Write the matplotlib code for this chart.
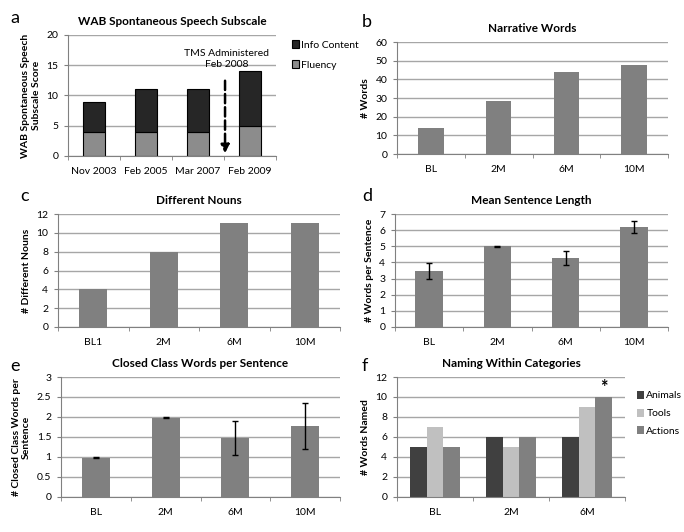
import matplotlib
matplotlib.use("Agg")
import matplotlib.pyplot as plt
import numpy as np

plt.rcParams['font.family'] = ['Lato', 'DejaVu Sans']

# -----------------------
# data
# -----------------------
wab_dates = ['Nov 2003', 'Feb 2005', 'Mar 2007', 'Feb 2009']
wab_fluency = [4, 4, 4, 5]
wab_info = [5, 7, 7, 9]

visits = ['BL', '2M', '6M', '10M']
visits_c = ['BL1', '2M', '6M', '10M']
narrative_words = [14, 28.5, 44, 47.5]
diff_nouns = [4, 8, 11, 11]
mean_len = [3.45, 5.0, 4.3, 6.2]
mean_len_err = [0.5, 0.02, 0.43, 0.38]
closed_class = [0.98, 1.98, 1.48, 1.78]
closed_class_err = [0.01, 0.01, 0.43, 0.58]

naming_visits = ['BL', '2M', '6M']
naming_animals = [5, 6, 6]
naming_tools = [7, 5, 9]
naming_actions = [5, 6, 10]

W, H = 684, 532
BAR = '#808080'
GRID = '#a6a6a6'


def add_panel(fig, x0, y0, x1, y1):
    # pixel box -> figure fraction
    return fig.add_axes([x0 / W, 1 - y1 / H, (x1 - x0) / W, (y1 - y0) / H])


def style(ax, labels, ymax, ystep, ylabel, title, fmt=None):
    n = len(labels)
    ax.set_xlim(-0.5, n - 0.5)
    ax.set_ylim(0, ymax)
    ticks = np.arange(0, ymax + ystep / 2, ystep)
    ax.set_yticks(ticks)
    if fmt:
        ax.set_yticklabels([fmt(t) for t in ticks])
    ax.set_xticks(range(n))
    ax.set_xticklabels(labels)
    ax.set_xticks(np.arange(-0.5, n, 1), minor=True)
    ax.tick_params(axis='x', which='major', length=0, pad=8, labelsize=7.5)
    ax.tick_params(axis='x', which='minor', length=3, color='#808080')
    ax.tick_params(axis='y', length=3, color='#808080', labelsize=7.5, pad=4)
    ax.yaxis.grid(True, color=GRID, lw=1)
    ax.set_axisbelow(True)
    for s in ['top', 'right']:
        ax.spines[s].set_visible(False)
    for s in ['left', 'bottom']:
        ax.spines[s].set_color('#808080')
    ax.set_ylabel(ylabel, fontsize=7.5, fontweight='bold')
    ax.set_title(title, fontsize=8.5, fontweight='bold', pad=7)


fig = plt.figure(figsize=(W / 100, H / 100), dpi=100)

# a
ax = add_panel(fig, 68, 35, 276, 156)
x = np.arange(len(wab_dates))
ax.bar(x, wab_fluency, 0.42, color='#8c8c8c', edgecolor='black', lw=0.8, label='Fluency', zorder=2)
ax.bar(x, wab_info, 0.42, bottom=wab_fluency, color='#262626', edgecolor='black', lw=0.8,
       label='Info Content', zorder=2)
style(ax, wab_dates, 20, 5, 'WAB Spontaneous Speech\nSubscale Score', 'WAB Spontaneous Speech Subscale')
ax.annotate('', xy=(2.52, 0), xytext=(2.52, 12.9),
            arrowprops=dict(arrowstyle='-|>', ls='--', lw=1.8, color='black', mutation_scale=12))
ax.text(2.55, 16, 'TMS Administered\nFeb 2008', ha='center', va='center', fontsize=7.5, linespacing=1.3)
h, l = ax.get_legend_handles_labels()
ax.legend(h[::-1], l[::-1], loc='upper left', bbox_to_anchor=(1.05, 1.0), frameon=False, fontsize=7.5,
          handlelength=0.7, handleheight=0.8, handletextpad=0.2, labelspacing=1.0, borderpad=0)
fig.text(10 / W, 1 - 18 / H, 'a', fontsize=13, va='center')

# b
ax = add_panel(fig, 397, 42, 668, 154)
ax.bar(range(4), narrative_words, 0.38, color=BAR, zorder=2)
style(ax, visits, 60, 10, '# Words', 'Narrative Words')
fig.text(362 / W, 1 - 22 / H, 'b', fontsize=13, va='center')

# c
ax = add_panel(fig, 58, 214, 340, 327)
ax.bar(range(4), diff_nouns, 0.4, color=BAR, zorder=2)
style(ax, visits_c, 12, 2, '# Different Nouns', 'Different Nouns')
fig.text(20 / W, 1 - 196 / H, 'c', fontsize=13, va='center')

# d
ax = add_panel(fig, 395, 214, 668, 327)
ax.bar(range(4), mean_len, 0.4, color=BAR, zorder=2,
       yerr=mean_len_err, error_kw=dict(ecolor='black', elinewidth=1, capsize=2.5, capthick=1))
style(ax, visits, 7, 1, '# Words per Sentence', 'Mean Sentence Length')
fig.text(362 / W, 1 - 196 / H, 'd', fontsize=13, va='center')

# e
ax = add_panel(fig, 61, 377, 340, 497)
ax.bar(range(4), closed_class, 0.4, color=BAR, zorder=2,
       yerr=closed_class_err, error_kw=dict(ecolor='black', elinewidth=1, capsize=2.5, capthick=1))
style(ax, visits, 3, 0.5, '# Closed Class Words per\nSentence', 'Closed Class Words per Sentence',
      fmt=lambda t: ('%g' % t))
fig.text(10 / W, 1 - 366 / H, 'e', fontsize=13, va='center')

# f
ax = add_panel(fig, 397, 377, 625, 497)
xg = np.arange(len(naming_visits))
bw = 0.22
ax.bar(xg - bw, naming_animals, bw, color='#404040', label='Animals', zorder=2)
ax.bar(xg, naming_tools, bw, color='#c0c0c0', label='Tools', zorder=2)
ax.bar(xg + bw, naming_actions, bw, color='#808080', label='Actions', zorder=2)
style(ax, naming_visits, 12, 2, '# Words Named', 'Naming Within Categories')
ax.text(xg[2] + bw, naming_actions[2] + 0.15, '*', ha='center', va='bottom', fontsize=13, fontweight='bold')
ax.legend(loc='upper left', bbox_to_anchor=(1.03, 0.93), frameon=False, fontsize=7.5,
          handlelength=0.7, handleheight=0.8, handletextpad=0.2, labelspacing=0.8, borderpad=0)
fig.text(362 / W, 1 - 366 / H, 'f', fontsize=13, va='center')

fig.savefig('out.png', dpi=100)
